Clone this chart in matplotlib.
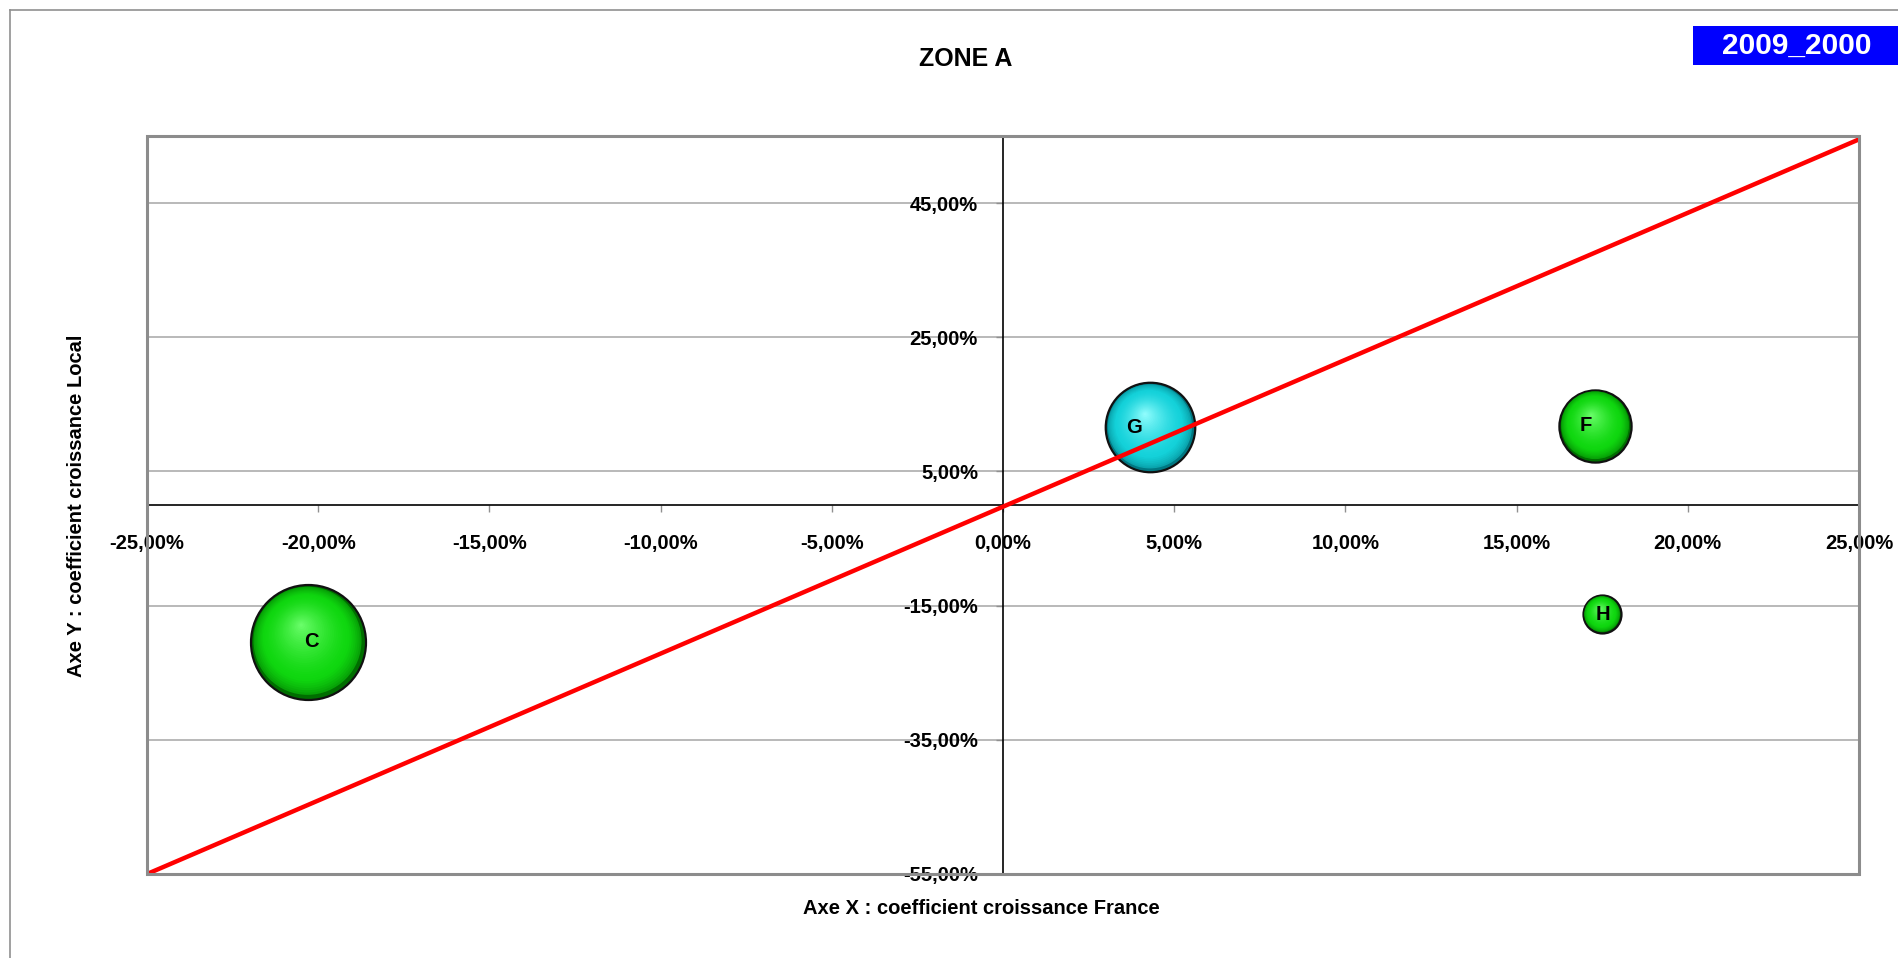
import numpy as np
import matplotlib
matplotlib.use("Agg")
import matplotlib.pyplot as plt
from matplotlib.ticker import FixedLocator, FuncFormatter
from matplotlib.transforms import ScaledTranslation
from matplotlib.patches import Rectangle
from matplotlib.lines import Line2D

plt.rcParams['font.family'] = ['Liberation Sans', 'DejaVu Sans']
plt.rcParams['font.weight'] = 'bold'

# ---- data ----
labels = ["C", "G", "F", "H"]
x_growth_france = [-20.3, 4.3, 17.3, 17.5]   # %
y_growth_local = [-20.4, 11.6, 11.8, -16.3]   # %
bubble_size = [3.3, 2.0, 1.3, 0.36]
bubble_kind = ["green", "cyan", "green", "green"]
ref_line_x = [-25, 25]
ref_line_y = [-55, 54.5]
x_ticks = [-25, -20, -15, -10, -5, 0, 5, 10, 15, 20, 25]
y_ticks = [-55, -35, -15, 5, 25, 45]
title = "ZONE A"
badge = "2009_2000"
x_label = "Axe X : coefficient croissance France"
y_label = "Axe Y : coefficient croissance Local"

W, H = 1899, 958
DPI = 100
fig = plt.figure(figsize=(W / DPI, H / DPI), dpi=DPI)
fig.patch.set_facecolor("white")

# outer frame (left & top)
fig.add_artist(Line2D([10 / W, 10 / W], [0, 1 - 10 / H], color="#909090", lw=1.2))
fig.add_artist(Line2D([10 / W, 1], [1 - 10 / H, 1 - 10 / H], color="#909090", lw=1.2))

L, R, T, B = 147, 1859, 136, 874
ax = fig.add_axes([L / W, 1 - B / H, (R - L) / W, (B - T) / H])
ax.set_xlim(-25, 25)
ax.set_ylim(-55, 55)

for s in ["top", "right"]:
    ax.spines[s].set_visible(False)
ax.spines["left"].set_position(("data", 0))
ax.spines["bottom"].set_position(("data", 0))
for s in ["left", "bottom"]:
    ax.spines[s].set_color("black")
    ax.spines[s].set_linewidth(1.2)
    ax.spines[s].set_zorder(1.5)
ax.add_patch(Rectangle((0, 0), 1, 1, transform=ax.transAxes, fill=False,
                       edgecolor="#8c8c8c", lw=2.2, clip_on=False, zorder=5))

fmt = FuncFormatter(lambda v, p: f"{v:.2f}".replace(".", ",") + "%")
ax.xaxis.set_major_locator(FixedLocator(x_ticks))
ax.yaxis.set_major_locator(FixedLocator(y_ticks))
ax.xaxis.set_major_formatter(fmt)
ax.yaxis.set_major_formatter(fmt)
ax.tick_params(axis="x", direction="out", length=5, width=1, color="#909090",
               labelsize=14.5, pad=16)
ax.tick_params(axis="y", direction="out", length=5, width=1, color="#909090",
               labelsize=14.5, pad=13)
for lab in ax.get_xticklabels() + ax.get_yticklabels():
    lab.set_fontweight("bold")
ax.yaxis.grid(True, color="#a6a6a6", lw=1.1)
ax.set_axisbelow(True)

# bubbles
palettes = {
    "green": dict(rim=np.array([0, 110, 0]), mid=np.array([15, 215, 15]), hi=np.array([110, 255, 110])),
    "cyan": dict(rim=np.array([0, 120, 130]), mid=np.array([20, 210, 218]), hi=np.array([150, 255, 255])),
}
rmax_px = 57.5
smax = max(bubble_size)
to_pt = 72.0 / DPI
for lab, x, y, sz, kind in zip(labels, x_growth_france, y_growth_local, bubble_size, bubble_kind):
    r_px = rmax_px * np.sqrt(sz / smax)
    pal = palettes[kind]
    ax.scatter([x], [y], s=(2 * r_px * to_pt) ** 2, color=pal["rim"] / 255,
               edgecolors="#111111", linewidths=1.6, zorder=3)
    n = 32
    hx, hy = -0.12 * r_px, 0.30 * r_px
    for i in range(1, n):
        t = 0.03 + 0.97 * i / n
        rr = r_px * (1 - t)
        if rr < 0.5:
            continue
        if t < 0.25:
            c = pal["rim"] + (pal["mid"] - pal["rim"]) * (t / 0.25) ** 0.5
        else:
            c = pal["mid"] + (pal["hi"] - pal["mid"]) * ((t - 0.25) / 0.75) ** 1.4
        tr = ax.transData + ScaledTranslation(t * hx / DPI, t * hy / DPI, fig.dpi_scale_trans)
        ax.scatter([x], [y], s=(2 * rr * to_pt) ** 2, color=np.clip(c, 0, 255) / 255,
                   edgecolors="none", transform=tr, zorder=3.1)

label_offsets = {"C": (3, 0), "G": (-16, 0), "F": (-10, 0), "H": (1, 0)}
for lab, x, y in zip(labels, x_growth_france, y_growth_local):
    dx, dy = label_offsets[lab]
    ax.annotate(lab, (x, y), xytext=(dx * to_pt, dy * to_pt), textcoords="offset points",
                ha="center", va="center", fontsize=14.5, fontweight="bold", zorder=6)

ax.plot(ref_line_x, ref_line_y, color="#ff0000", lw=3.2, zorder=4, solid_capstyle="butt",
        clip_on=False)

# texts
fig.text(966 / W, 1 - 59 / H, title, ha="center", va="center", fontsize=18, fontweight="bold")
fig.text(981 / W, 1 - 908 / H, x_label, ha="center", va="center", fontsize=14.5, fontweight="bold")
fig.text(77 / W, 1 - 506 / H, y_label, ha="center", va="center", rotation=90,
         fontsize=14.5, fontweight="bold")

fig.add_artist(Rectangle((1693 / W, 1 - 65 / H), (W - 1693) / W, 39 / H,
                         transform=fig.transFigure, facecolor="#0000ff", edgecolor="none"))
fig.text(1797 / W, 1 - 46 / H, badge, ha="center", va="center", fontsize=21.5,
         fontweight="bold", color="white")

fig.savefig("out.png", dpi=DPI)
